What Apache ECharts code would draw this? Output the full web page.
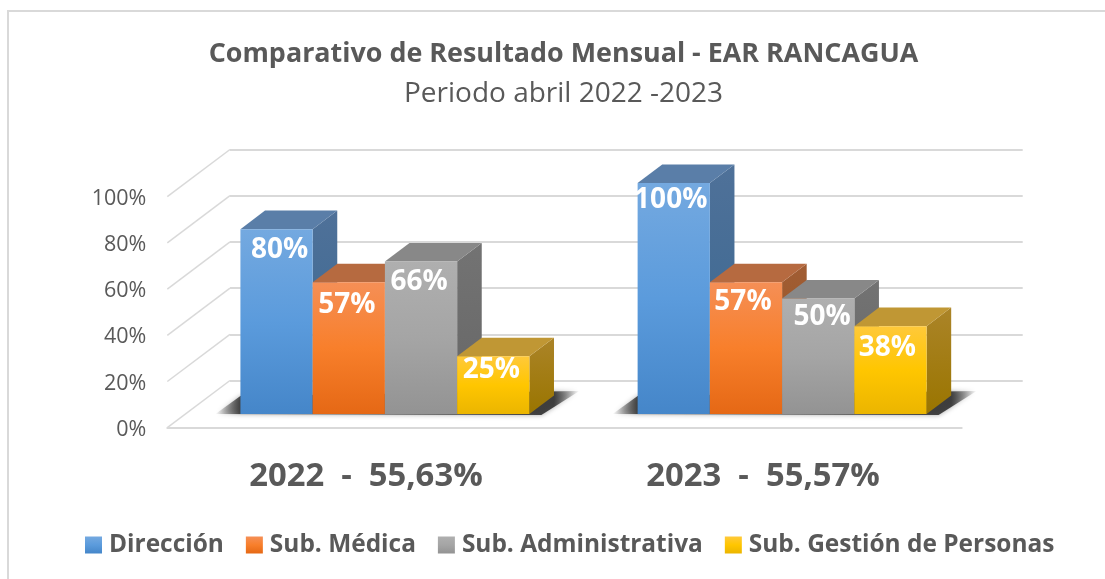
<!DOCTYPE html>
<html>
<head>
<meta charset="utf-8">
<style>html,body{margin:0;padding:0;background:#fff}#c{width:1105px;height:579px}</style>
<script src="https://cdn.jsdelivr.net/npm/echarts@6/dist/echarts.min.js"></script>
</head>
<body>
<div id="c"></div>
<script>
const categories = ['2022  -  55,63%', '2023  -  55,57%'];
const seriesNames = ['Dirección', 'Sub. Médica', 'Sub. Administrativa', 'Sub. Gestión de Personas'];
const direccion = [80, 100];
const subMedica = [57, 57];
const subAdministrativa = [66, 50];
const subGestion = [25, 38];
const yTicks = [0, 20, 40, 60, 80, 100];
const values = [direccion, subMedica, subAdministrativa, subGestion];

// Style & layout
const FONT = '"Open Sans"';
const grey = '#595959';
const wall = { dx: 62.7, dy: 47.2 };
const barOff = { dx: 19, dy: 13.7 };
const depth = { dx: 24.6, dy: 18.6 };
const palette = [
  { front: ['#74a9e0', '#5b9bdc', '#4586c9'], top: '#5a7ea8', side: ['#4f7199', '#386790'] },
  { front: ['#f58f56', '#f87f2b', '#e56815'], top: '#b66a40', side: ['#a15d34', '#93531f'] },
  { front: ['#afafaf', '#a5a5a5', '#939393'], top: '#888888', side: ['#737373', '#666666'] },
  { front: ['#ffc93a', '#ffc600', '#ebb500'], top: '#c09734', side: ['#ab8428', '#9a7500'] }
];
const labelNudge = [
  [[3, 0], [-3, -3]],
  [[-2, 2], [-3, -0.5]],
  [[-2, 0], [4, -2]],
  [[-2, -7], [-3, 1]]
];
const grad = (c) => new echarts.graphic.LinearGradient(0, 0, 0, 1, [
  { offset: 0, color: c[0] }, { offset: 0.5, color: c[1] }, { offset: 1, color: c[2] }
]);
const BAR_FRACTION = 0.7275 / 4;

function barRender(si) {
  return function (params, api) {
    const cat = api.value(0), v = api.value(1);
    const bandW = api.size([1, 0])[0];
    const w = bandW * BAR_FRACTION;
    const p0 = api.coord([cat, 0]), pv = api.coord([cat, v]);
    const x0 = p0[0] + barOff.dx - 2 * w + si * w;
    const x1 = x0 + w;
    const yb = p0[1] - barOff.dy;
    const yt = pv[1] - barOff.dy;
    const c = palette[si];
    const n = labelNudge[si][cat];
    return {
      type: 'group',
      children: [
        { type: 'polygon', shape: { points: [[x1, yt], [x1 + depth.dx, yt - depth.dy], [x1 + depth.dx, yb - depth.dy], [x1, yb]] },
          style: { fill: new echarts.graphic.LinearGradient(0, 0, 0, 1, [{ offset: 0, color: c.side[0] }, { offset: 1, color: c.side[1] }]) } },
        { type: 'polygon', shape: { points: [[x0, yt], [x0 + depth.dx, yt - depth.dy], [x1 + depth.dx, yt - depth.dy], [x1, yt]] },
          style: { fill: c.top } },
        { type: 'rect', shape: { x: x0, y: yt, width: w, height: yb - yt },
          style: { fill: grad(c.front) } },
        { type: 'text', z2: 100,
          style: { text: v + '%', x: (x0 + x1) / 2 + n[0], y: yt + 20.5 + n[1], align: 'center', verticalAlign: 'middle',
            fill: '#fff', font: 'bold 28px ' + FONT } }
      ]
    };
  };
}

function shadowRender(params, api) {
  const cat = api.value(0);
  const bandW = api.size([1, 0])[0];
  const w = bandW * BAR_FRACTION;
  const p0 = api.coord([cat, 0]);
  const left = p0[0] + barOff.dx - 2 * w, right = left + 4 * w;
  const yb = p0[1] - barOff.dy;
  const ink = (a) => 'rgba(50,50,50,' + a + ')';
  return {
    type: 'polygon',
    shape: { points: [[left - 25, yb], [left, yb - 18], [right + 50, yb - 23], [right + 12, yb + 1]] },
    style: {
      fill: new echarts.graphic.LinearGradient(0, 0, 1, 0, [
        { offset: 0, color: ink(0) }, { offset: 0.07, color: ink(0.9) },
        { offset: 0.93, color: ink(0.9) }, { offset: 1, color: ink(0) }
      ]),
      shadowBlur: 5, shadowColor: 'rgba(60,60,60,0.5)'
    }
  };
}

function wallRender(params, api) {
  const v = api.value(1);
  const p = api.coord([0, v]);
  const left = p[0] - api.size([1, 0])[0] / 2;
  return {
    type: 'line',
    shape: { x1: left, y1: p[1], x2: left + wall.dx, y2: p[1] - wall.dy },
    style: { stroke: '#d9d9d9', lineWidth: 1.5 }
  };
}

const option = {
  backgroundColor: '#fff',
  animation: false,
  title: {
    left: 558.5, top: 30, textAlign: 'center',
    text: '{b|Comparativo de Resultado Mensual - EAR RANCAGUA}\n{n|Periodo abril 2022 -2023}',
    textStyle: {
      rich: {
        b: { fontFamily: FONT, fontSize: 26.9, fontWeight: 'bold', color: grey, lineHeight: 39, align: 'center' },
        n: { fontFamily: FONT, fontSize: 28, fontWeight: 'normal', color: grey, lineHeight: 40, align: 'center' }
      }
    }
  },
  legend: {
    left: 85, top: 533, padding: 0, itemWidth: 17, itemHeight: 17, itemGap: 22,
    icon: 'rect', data: seriesNames, selectedMode: false,
    textStyle: { fontFamily: FONT, fontSize: 24.45, fontWeight: 'bold', color: grey, padding: [0, 0, 0, 2] }
  },
  grid: [
    { left: 167.3, top: 196.7, width: 794.4, height: 231 },
    { left: 230, top: 149.5, width: 792.7, height: 231 }
  ],
  xAxis: [
    { type: 'category', gridIndex: 0, data: categories,
      axisLine: { show: true, lineStyle: { color: '#d9d9d9', width: 2 } }, axisTick: { show: false },
      axisLabel: { fontFamily: FONT, fontSize: 32.8, fontWeight: 'bold', color: grey, margin: 32 } },
    { type: 'category', gridIndex: 1, data: categories, show: false }
  ],
  yAxis: [
    { type: 'value', gridIndex: 0, min: 0, max: 100, interval: 20,
      axisLine: { show: false }, axisTick: { show: false }, splitLine: { show: false },
      axisLabel: { margin: 21, formatter: '{v|{value}%}',
        rich: { v: { fontFamily: FONT, fontSize: 21.5, color: grey, padding: [4, 0, 0, 0] } } } },
    { type: 'value', gridIndex: 1, min: 0, max: 100, interval: 20,
      axisLine: { show: false }, axisTick: { show: false }, axisLabel: { show: false },
      splitLine: { show: true, lineStyle: { color: '#d9d9d9', width: 2 } } }
  ],
  graphic: [{
    type: 'polyline', silent: true, z: -1,
    shape: { points: [[8, 579], [8, 11], [1105, 11]] },
    style: { stroke: '#d9d9d9', lineWidth: 2, fill: null }
  }],
  series: [
    { type: 'custom', name: 'walls', coordinateSystem: 'cartesian2d', xAxisIndex: 0, yAxisIndex: 0, silent: true, z: 2,
      renderItem: wallRender, data: yTicks.map((t) => [0, t]) },
    { type: 'custom', name: 'shadow', coordinateSystem: 'cartesian2d', xAxisIndex: 0, yAxisIndex: 0, silent: true, z: 2,
      renderItem: shadowRender, data: categories.map((_, i) => [i, 0]) },
    ...seriesNames.map((name, si) => ({
      type: 'custom', name, coordinateSystem: 'cartesian2d', xAxisIndex: 0, yAxisIndex: 0, z: 3,
      itemStyle: { color: grad(palette[si].front) },
      renderItem: barRender(si),
      encode: { x: 0, y: 1 },
      data: values[si].map((v, i) => [i, v])
    }))
  ]
};
const chart = echarts.init(document.getElementById('c'), null, { renderer: 'canvas' });
chart.setOption(option);
</script>
</body>
</html>
